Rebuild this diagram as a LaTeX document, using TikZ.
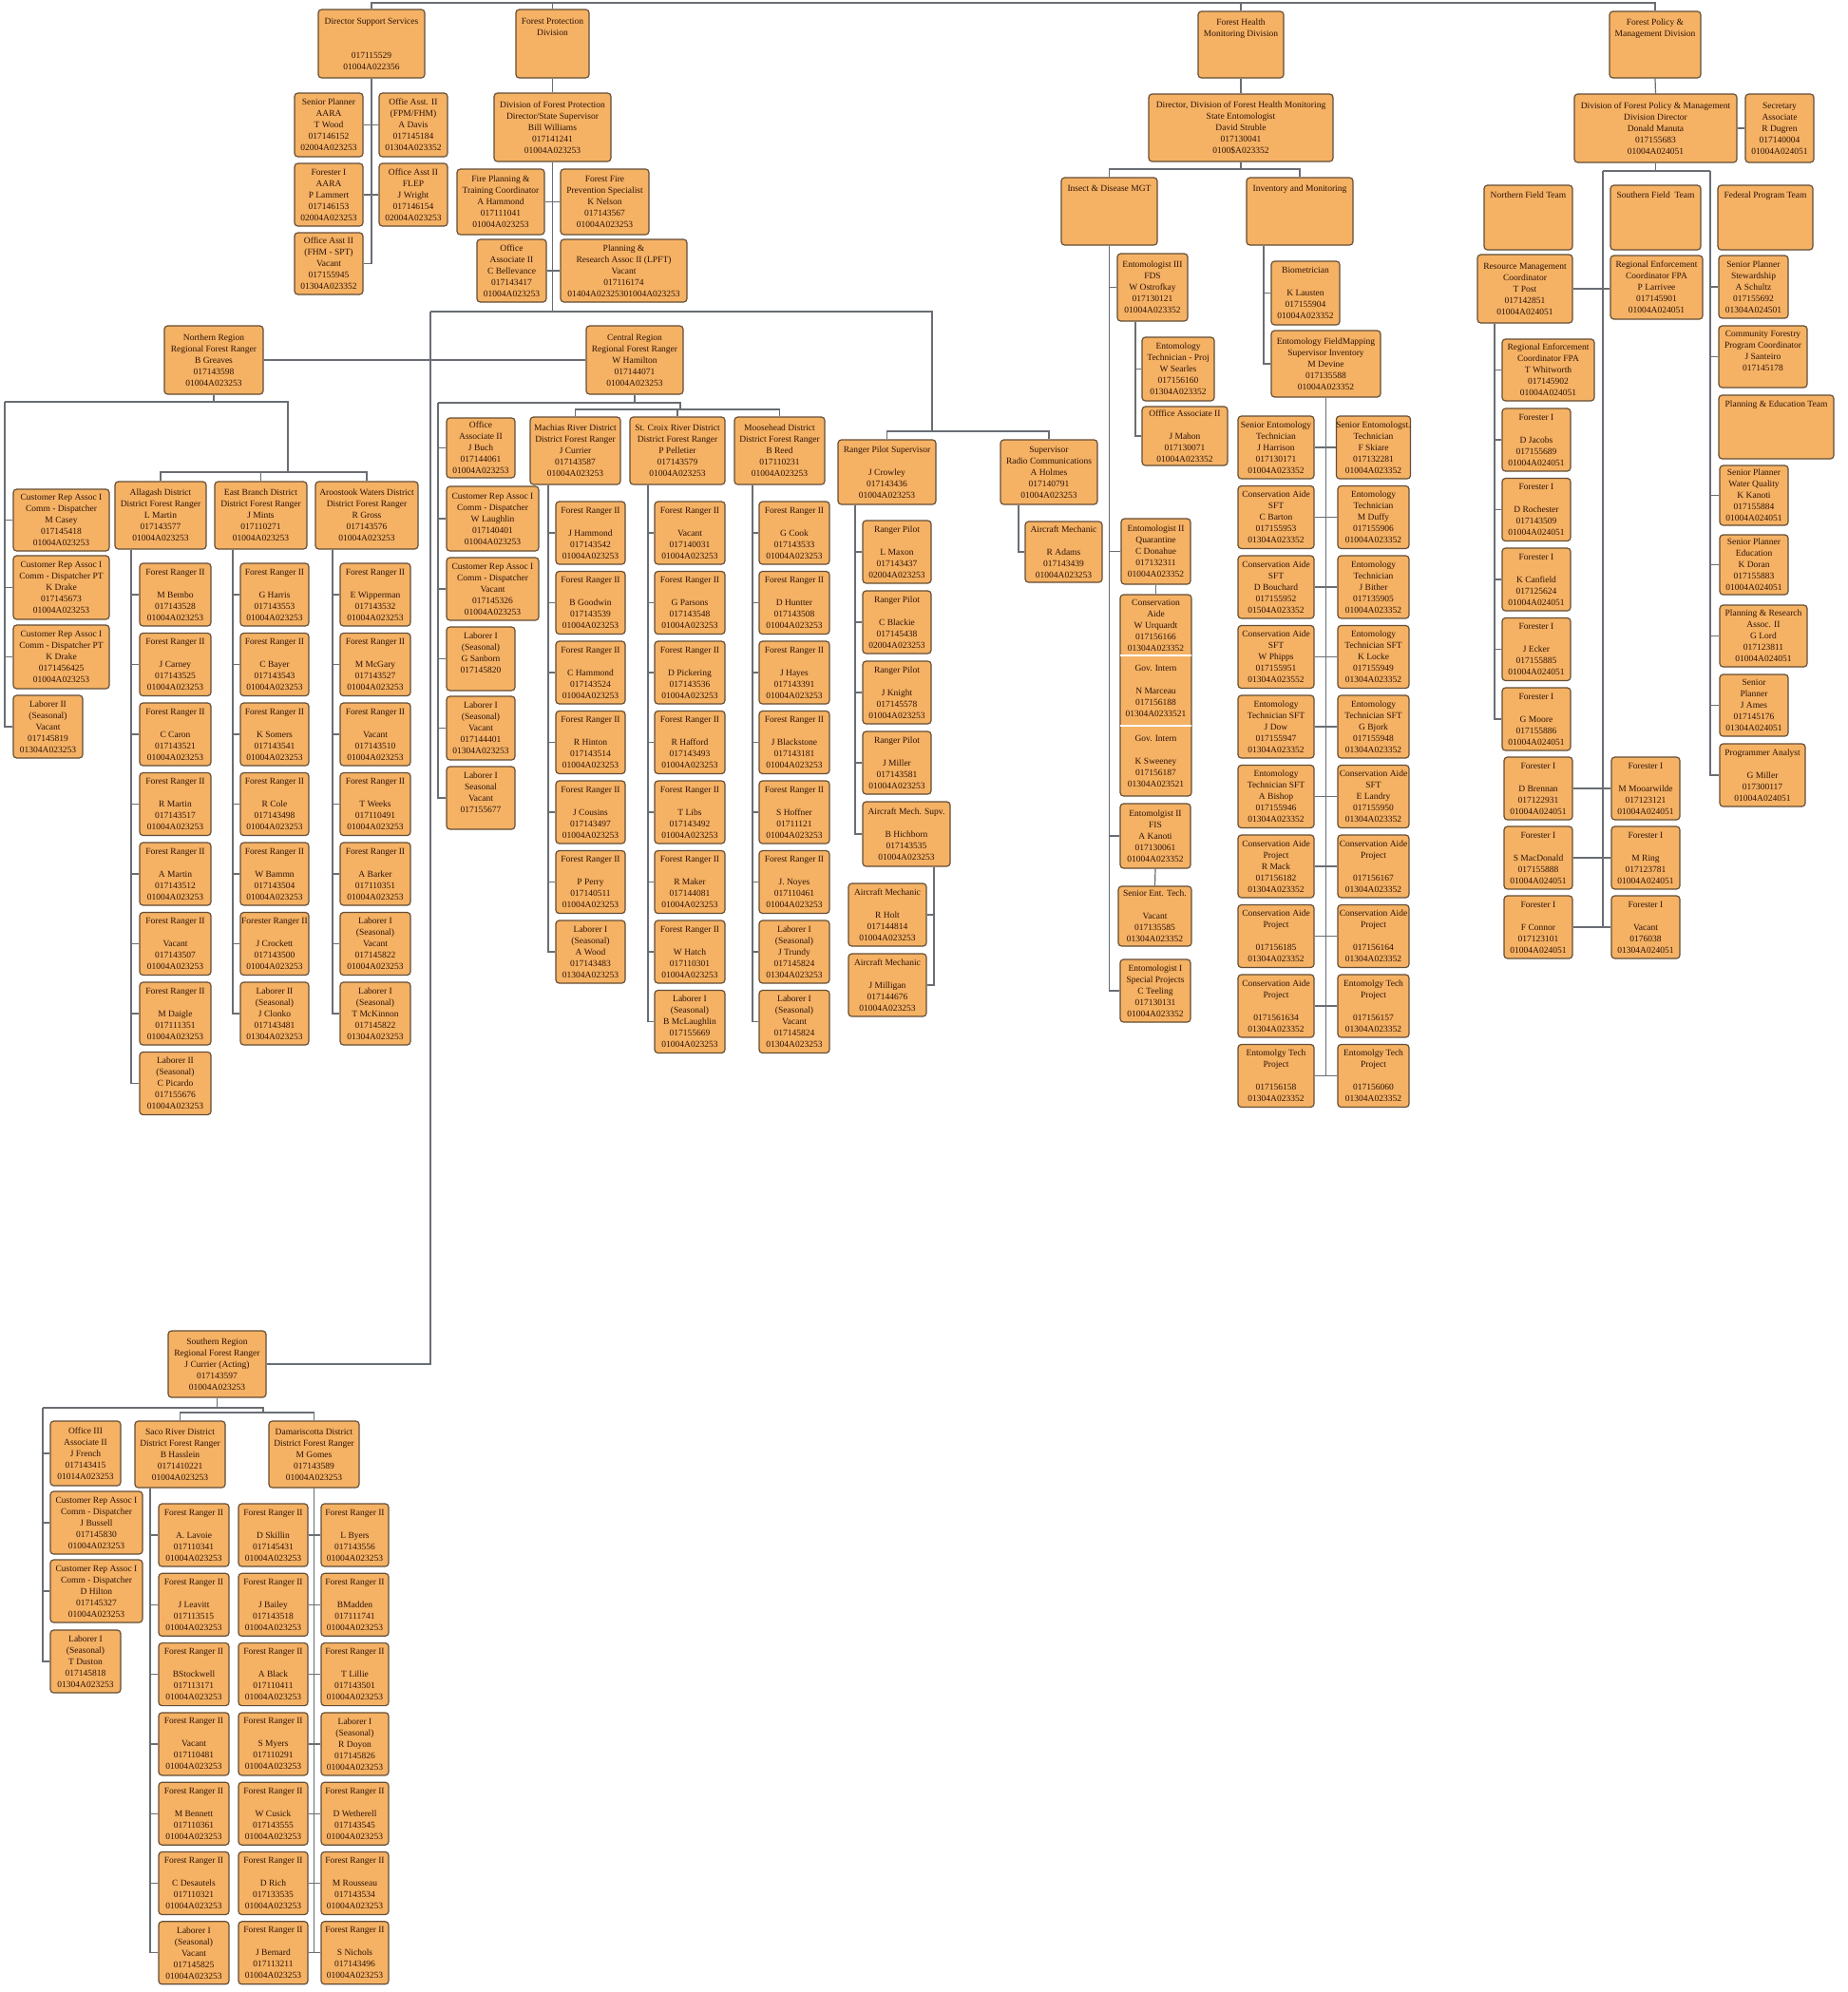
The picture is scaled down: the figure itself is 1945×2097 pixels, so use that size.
\documentclass[tikz,border=0pt]{standalone}
\usepackage{fontspec}
\setmainfont{Liberation Serif}
\usetikzlibrary{backgrounds}
\definecolor{boxfill}{RGB}{245,178,100}
\definecolor{boxline}{RGB}{100,78,55}
\definecolor{linec}{RGB}{105,110,116}
\definecolor{txt}{RGB}{45,18,10}
\tikzset{
 box/.style={draw=boxline, fill=boxfill, rounded corners=3.5pt, line width=1.2pt, inner sep=0pt, align=center, text=txt, font=\fontsize{9.5}{12}\selectfont},
 txtn/.style={inner sep=0pt, align=center, text=txt, font=\fontsize{9.5}{12}\selectfont},
 conn/.style={draw=linec, line width=1.2pt},
}
\newcommand\bx[6]{\node[box, minimum width={#4-#2}, minimum height={#5-#3}] (#1) at ({(#2+#4)/2},{(#3+#5)/2}) {#6};}
\newcommand\col[6]{\foreach \fa/\fb/\fc/\fd/\fe [count=\i] in {#6}{\pgfmathsetmacro\yy{#4+(\i-1)*#5}\bx{#1\i}{#2}{\yy}{#3}{\yy+66}{\fa\\\fb\\\fc\\\fd\\\fe}}}
\begin{document}
\begin{tikzpicture}[x=1pt,y=-1pt]
\useasboundingbox (0,0) rectangle (1945,2097);
% ---------- top level
\bx{dss}{335}{10}{447}{82}{Director Support Services\\~\\~\\017115529\\01004A022356}
\bx{fpd}{543}{10}{620}{82}{Forest Protection\\Division\\~\\~\\~}
\bx{fhmd}{1261}{12}{1351}{82}{Forest Health\\Monitoring Division\\~\\~\\~}
\bx{fpmd}{1694}{12}{1790}{82}{Forest Policy \&\\Management Division\\~\\~\\~}
% ---------- director support services
\bx{sp}{310}{98}{382}{165}{Senior Planner\\AARA\\T Wood\\017146152\\02004A023253}
\bx{oa1}{399}{98}{471}{165}{Offie Asst. II\\(FPM/FHM)\\A Davis\\017145184\\01304A023352}
\bx{f1}{310}{172}{382}{238}{Forester I\\AARA\\P Lammert\\017146153\\02004A023253}
\bx{oa2}{399}{172}{471}{238}{Office Asst II\\FLEP\\J Wright\\017146154\\02004A023253}
\bx{oa3}{310}{245}{382}{310}{Office Asst II\\(FHM - SPT)\\Vacant\\017155945\\01304A023352}
% ---------- forest protection
\bx{dfp}{520}{98}{643}{170}{Division of Forest Protection\\Director/State Supervisor\\Bill Williams\\017141241\\01004A023253}
\bx{fpc}{481}{178}{573}{247}{Fire Planning \&\\Training Coordinator\\A Hammond\\017111041\\01004A023253}
\bx{ffp}{590}{178}{683}{247}{Forest Fire\\Prevention Specialist\\K Nelson\\017143567\\01004A023253}
\bx{oa4}{502}{252}{575}{318}{Office\\Associate II\\C Bellevance\\017143417\\01004A023253}
\bx{pra}{590}{252}{723}{318}{Planning \&\\Research Assoc II (LPFT)\\Vacant\\017116174\\01404A02325301004A023253}
% ---------- northern region
\bx{nr}{173}{343}{277}{415}{Northern Region\\Regional Forest Ranger\\B Greaves\\017143598\\01004A023253}
\bx{cra1}{14}{515}{115}{580}{Customer Rep Assoc I\\Comm - Dispatcher\\M Casey\\017145418\\01004A023253}
\bx{cra2}{14}{585}{115}{652}{Customer Rep Assoc I\\Comm - Dispatcher PT\\K Drake\\017145673\\01004A023253}
\bx{cra3}{14}{658}{115}{725}{Customer Rep Assoc I\\Comm - Dispatcher PT\\K Drake\\0171456425\\01004A023253}
\bx{lab2}{14}{732}{87}{798}{Laborer II\\(Seasonal)\\Vacant\\017145819\\01304A023253}
\bx{alg}{121}{507}{217}{578}{Allagash District\\District Forest Ranger\\L Martin\\017143577\\01004A023253}
\bx{eb}{226}{507}{323}{578}{East Branch District\\District Forest Ranger\\J Mints\\017110271\\01004A023253}
\bx{aro}{332}{507}{440}{578}{Aroostook Waters District\\District Forest Ranger\\R Gross\\017143576\\01004A023253}
\col{al}{147}{222}{593}{73.5}{Forest Ranger II/~/M Bembo/017143528/01004A023253,
 Forest Ranger II/~/J Carney/017143525/01004A023253,
 Forest Ranger II/~/C Caron/017143521/01004A023253,
 Forest Ranger II/~/R Martin/017143517/01004A023253,
 Forest Ranger II/~/A Martin/017143512/01004A023253,
 Forest Ranger II/~/Vacant/017143507/01004A023253,
 Forest Ranger II/~/M Daigle/017111351/01004A023253,
 Laborer II/(Seasonal)/C Picardo/017155676/01004A023253}
\col{ebr}{253}{325}{593}{73.5}{Forest Ranger II/~/G Harris/017143553/01004A023253,
 Forest Ranger II/~/C Bayer/017143543/01004A023253,
 Forest Ranger II/~/K Somers/017143541/01004A023253,
 Forest Ranger II/~/R Cole/017143498/01004A023253,
 Forest Ranger II/~/W Bammn/017143504/01004A023253,
 Forester Ranger II/~/J Crockett/017143500/01004A023253,
 Laborer II/(Seasonal)/J Clonko/017143481/01304A023253}
\col{ar}{358}{432}{593}{73.5}{Forest Ranger II/~/E Wipperman/017143532/01004A023253,
 Forest Ranger II/~/M McGary/017143527/01004A023253,
 Forest Ranger II/~/Vacant/017143510/01004A023253,
 Forest Ranger II/~/T Weeks/017110491/01004A023253,
 Forest Ranger II/~/A Barker/017110351/01004A023253,
 Laborer I/(Seasonal)/Vacant/017145822/01004A023253,
 Laborer I/(Seasonal)/T McKinnon/017145822/01304A023253}
% ---------- central region
\bx{cr}{617}{343}{719}{415}{Central Region\\Regional Forest Ranger\\W Hamilton\\017144071\\01004A023253}
\bx{oc1}{470}{440}{542}{503}{Office\\Associate II\\J Buch\\017144061\\01004A023253}
\bx{oc2}{470}{512}{567}{580}{Customer Rep Assoc I\\Comm - Dispatcher\\W Laughlin\\017140401\\01004A023253}
\bx{oc3}{470}{587}{567}{653}{Customer Rep Assoc I\\Comm - Dispatcher\\Vacant\\017145326\\01004A023253}
\bx{oc4}{470}{660}{542}{727}{Laborer I\\(Seasonal)\\G Sanborn\\017145820\\~}
\bx{oc5}{470}{733}{542}{800}{Laborer I\\(Seasonal)\\Vacant\\017144401\\01304A023253}
\bx{oc6}{470}{807}{542}{873}{Laborer I\\Seasonal\\Vacant\\017155677\\~}
\bx{mach}{558}{439}{653}{510}{Machias River District\\District Forest Ranger\\J Currier\\017143587\\01004A023253}
\bx{stc}{663}{439}{763}{510}{St. Croix River District\\District Forest Ranger\\P Pelletier\\017143579\\01004A023253}
\bx{moos}{773}{439}{868}{510}{Moosehead District\\District Forest Ranger\\B Reed\\017110231\\01004A023253}
\col{mc}{585}{658}{528}{73.5}{Forest Ranger II/~/J Hammond/017143542/01004A023253,
 Forest Ranger II/~/B Goodwin/017143539/01004A023253,
 Forest Ranger II/~/C Hammond/017143524/01004A023253,
 Forest Ranger II/~/R Hinton/017143514/01004A023253,
 Forest Ranger II/~/J Cousins/017143497/01004A023253,
 Forest Ranger II/~/P Perry/017140511/01004A023253,
 Laborer I/(Seasonal)/A Wood/017143483/01304A023253}
\col{sc}{689}{763}{528}{73.5}{Forest Ranger II/~/Vacant/017140031/01004A023253,
 Forest Ranger II/~/G Parsons/017143548/01004A023253,
 Forest Ranger II/~/D Pickering/017143536/01004A023253,
 Forest Ranger II/~/R Hafford/017143493/01004A023253,
 Forest Ranger II/~/T Libs/017143492/01004A023253,
 Forest Ranger II/~/R Maker/017144081/01004A023253,
 Forest Ranger II/~/W Hatch/017110301/01004A023253,
 Laborer I/(Seasonal)/B McLaughlin/017155669/01004A023253}
\col{mo}{799}{873}{528}{73.5}{Forest Ranger II/~/G Cook/017143533/01004A023253,
 Forest Ranger II/~/D Huntter/017143508/01004A023253,
 Forest Ranger II/~/J Hayes/017143391/01004A023253,
 Forest Ranger II/~/J Blackstone/017143181/01004A023253,
 Forest Ranger II/~/S Hoffner/01711121/01004A023253,
 Forest Ranger II/~/J. Noyes/017110461/01004A023253,
 Laborer I/(Seasonal)/J Trundy/017145824/01304A023253,
 Laborer I/(Seasonal)/Vacant/017145824/01304A023253}
% ---------- ranger pilots and radio
\bx{rps}{882}{463}{985}{531}{Ranger Pilot Supervisor\\~\\J Crowley\\017143436\\01004A023253}
\col{rp}{908}{980}{548}{74}{Ranger Pilot/~/L Maxon/017143437/02004A023253,
 Ranger Pilot/~/C Blackie/017145438/02004A023253,
 Ranger Pilot/~/J Knight/017145578/01004A023253,
 Ranger Pilot/~/J Miller/017143581/01004A023253}
\bx{ams}{908}{844}{1000}{912}{Aircraft Mech. Supv.\\~\\B Hichborn\\017143535\\01004A023253}
\bx{rholt}{893}{930}{975}{996}{Aircraft Mechanic\\~\\R Holt\\017144814\\01004A023253}
\bx{jmil}{893}{1004}{975}{1070}{Aircraft Mechanic\\~\\J Milligan\\017144676\\01004A023253}
\bx{src}{1053}{463}{1155}{531}{Supervisor\\Radio Communications\\A Holmes\\017140791\\01004A023253}
\bx{radams}{1079}{549}{1160}{613}{Aircraft Mechanic\\~\\R Adams\\017143439\\01004A023253}
% ---------- forest health
\bx{dfh}{1209}{99}{1403}{170}{Director, Division of Forest Health Monitoring\\State Entomologist\\David Struble\\017130041\\0100\$A023352}
\bx{idm}{1117}{187}{1218}{258}{Insect \& Disease MGT\\~\\~\\~\\~}
\bx{inv}{1312}{187}{1424}{258}{Inventory and Monitoring\\~\\~\\~\\~}
\bx{e3}{1176}{267}{1250}{338}{Entomologist III\\FDS\\W Ostrofkay\\017130121\\01004A023352}
\bx{etp}{1202}{355}{1278}{422}{Entomology\\Technician - Proj\\W Searles\\017156160\\01304A023352}
\bx{oa5}{1202}{428}{1292}{490}{Offfice Associate II\\~\\J Mahon\\017130071\\01004A023352}
\bx{e2q}{1180}{546}{1253}{615}{Entomologist II\\Quarantine\\C Donahue\\017132311\\01004A023352}
\node[box, minimum width=75, minimum height=212] (grp) at (1216.5,732) {};
\node[txtn] (g1) at (1216.5,658) {Conservation\\Aide\\W Urquardt\\017156166\\01304A023352};
\node[txtn] (g2) at (1216.5,727) {Gov. Intern\\~\\N Marceau\\017156188\\01304A0233521};
\node[txtn] (g3) at (1216.5,801) {Gov. Intern\\~\\K Sweeney\\017156187\\01304A023521};
\coordinate (gs1) at (0,690);
\coordinate (gs2) at (0,764);
\draw[white, line width=2.2pt] ([xshift=1pt]grp.west |- gs1) -- ([xshift=-1pt]grp.east |- gs1);
\draw[white, line width=2.2pt] ([xshift=1pt]grp.west |- gs2) -- ([xshift=-1pt]grp.east |- gs2);
\bx{e2f}{1179}{846}{1253}{914}{Entomolgist II\\FIS\\A Kanoti\\017130061\\01004A023352}
\bx{set}{1177}{933}{1254}{996}{Senior Ent. Tech.\\~\\Vacant\\017135585\\01304A023352}
\bx{e1}{1179}{1010}{1253}{1076}{Entomologist I\\Special Projects\\C Teeling\\017130131\\01004A023352}
\bx{bio}{1338}{275}{1410}{342}{Biometrician\\~\\K Lausten\\017155904\\01004A023352}
\bx{efm}{1338}{348}{1453}{418}{Entomology FieldMapping\\Supervisor Inventory\\M Devine\\017135588\\01004A023352}
\col{hl}{1303}{1383}{438}{73.5}{Senior Entomology/Technician/J Harrison/017130171/01004A023352,
 Conservation Aide/SFT/C Barton/017155953/01304A023352,
 Conservation Aide/SFT/D Bouchard/017155952/01504A023352,
 Conservation Aide/SFT/W Phipps/017155951/01304A023552,
 Entomology/Technician SFT/J Dow/017155947/01304A023352,
 Entomology/Technician SFT/A Bishop/017155946/01304A023352,
 Conservation Aide/Project/R Mack/017156182/01304A023352,
 Conservation Aide/Project/~/017156185/01304A023352,
 Conservation Aide/Project/~/0171561634/01304A023352,
 Entomolgy Tech/Project/~/017156158/01304A023352}
\col{hr}{1408}{1483}{438}{73.5}{Senior Entomologst./Technician/F Skiare/017132281/01004A023352,
 Entomology/Technician/M Duffy/017155906/01004A023352,
 Entomology/Technician/J Bither/017135905/01004A023352,
 Entomology/Technician SFT/K Locke/017155949/01304A023352,
 Entomology/Technician SFT/G Bjork/017155948/01304A023352,
 Conservation Aide/SFT/E Landry/017155950/01304A023352,
 Conservation Aide/Project/~/017156167/01304A023352,
 Conservation Aide/Project/~/017156164/01304A023352,
 Entomolgy Tech/Project/~/017156157/01304A023352,
 Entomolgy Tech/Project/~/017156060/01304A023352}
% ---------- forest policy
\bx{dpm}{1657}{99}{1828}{171}{Division of Forest Policy \& Management\\Division Director\\Donald Manuta\\017155683\\01004A024051}
\bx{sec}{1837}{99}{1909}{171}{Secretary\\Associate\\R Dugren\\017140004\\01004A024051}
\bx{nft}{1562}{195}{1655}{263}{Northern Field Team\\~\\~\\~\\~}
\bx{sft}{1695}{195}{1790}{263}{Southern Field\ \ Team\\~\\~\\~\\~}
\bx{fpt}{1808}{195}{1908}{263}{Federal Program Team\\~\\~\\~\\~}
\bx{rmc}{1555}{268}{1655}{340}{Resource Management\\Coordinator\\T Post\\017142851\\01004A024051}
\bx{ref}{1695}{269}{1792}{336}{Regional Enforcement\\Coordinator FPA\\P Larrivee\\017145901\\01004A024051}
\bx{tw}{1581}{357}{1678}{422}{Regional Enforcement\\Coordinator FPA\\T Whitworth\\017145902\\01004A024051}
\col{fo}{1581}{1653}{430}{73.5}{Forester I/~/D Jacobs/017155689/01004A024051,
 Forester I/~/D Rochester/017143509/01004A024051,
 Forester I/~/K Canfield/017125624/01004A024051,
 Forester I/~/J Ecker/017155885/01004A024051,
 Forester I/~/G Moore/017155886/01004A024051}
\col{pl}{1583}{1655}{797}{73}{Forester I/~/D Brennan/017122931/01004A024051,
 Forester I/~/S MacDonald/017155888/01004A024051,
 Forester I/~/F Connor/017123101/01004A024051}
\col{pr}{1696}{1768}{797}{73}{Forester I/~/M Mooarwilde/017123121/01004A024051,
 Forester I/~/M Ring/017123781/01004A024051,
 Forester I/~/Vacant/0176038/01304A024051}
\bx{sps}{1809}{269}{1882}{335}{Senior Planner\\Stewardship\\A Schultz\\017155692\\01304A024501}
\bx{cfp}{1809}{343}{1902}{408}{Community Forestry\\Program Coordinator\\J Santeiro\\017145178\\~}
\bx{pet}{1809}{416}{1930}{483}{Planning \& Education Team\\~\\~\\~\\~}
\bx{spw}{1810}{490}{1882}{553}{Senior Planner\\Water Quality\\K Kanoti\\017155884\\01004A024051}
\bx{spe}{1810}{563}{1882}{626}{Senior Planner\\Education\\K Doran\\017155883\\01004A024051}
\bx{pra2}{1810}{637}{1902}{702}{Planning \& Research\\Assoc. II\\G Lord\\017123811\\01004A024051}
\bx{spj}{1810}{710}{1882}{775}{Senior\\Planner\\J Ames\\017145176\\01304A024051}
\bx{pga}{1810}{783}{1900}{849}{Programmer Analyst\\~\\G Miller\\017300117\\01004A024051}
% ---------- southern region
\bx{sr}{177}{1401}{280}{1471}{Southern Region\\Regional Forest Ranger\\J Currier (Acting)\\017143597\\01004A023253}
\bx{o3}{53}{1496}{127}{1564}{Office III\\Associate II\\J French\\017143415\\01014A023253}
\bx{cjb}{53}{1570}{150}{1636}{Customer Rep Assoc I\\Comm - Dispatcher\\J Bussell\\017145830\\01004A023253}
\bx{cdh}{53}{1642}{150}{1708}{Customer Rep Assoc I\\Comm - Dispatcher\\D Hilton\\017145327\\01004A023253}
\bx{ltd}{53}{1716}{127}{1782}{Laborer I\\(Seasonal)\\T Duston\\017145818\\01304A023253}
\bx{saco}{142}{1496}{237}{1566}{Saco River District\\District Forest Ranger\\B Hasslein\\0171410221\\01004A023253}
\bx{dam}{283}{1496}{378}{1566}{Damariscotta District\\District Forest Ranger\\M Gomes\\017143589\\01004A023253}
\col{sa}{167}{241}{1583}{73.3}{Forest Ranger II/~/A. Lavoie/017110341/01004A023253,
 Forest Ranger II/~/J Leavitt/017113515/01004A023253,
 Forest Ranger II/~/BStockwell/017113171/01004A023253,
 Forest Ranger II/~/Vacant/017110481/01004A023253,
 Forest Ranger II/~/M Bennett/017110361/01004A023253,
 Forest Ranger II/~/C Desautels/017110321/01004A023253,
 Laborer I/(Seasonal)/Vacant/017145825/01004A023253}
\col{da}{251}{324}{1583}{73.3}{Forest Ranger II/~/D Skillin/017145431/01004A023253,
 Forest Ranger II/~/J Bailey/017143518/01004A023253,
 Forest Ranger II/~/A Black/017110411/01004A023253,
 Forest Ranger II/~/S Myers/017110291/01004A023253,
 Forest Ranger II/~/W Cusick/017143555/01004A023253,
 Forest Ranger II/~/D Rich/017133535/01004A023253,
 Forest Ranger II/~/J Bernard/017113211/01004A023253}
\col{db}{338}{409}{1583}{73.3}{Forest Ranger II/~/L Byers/017143556/01004A023253,
 Forest Ranger II/~/BMadden/017111741/01004A023253,
 Forest Ranger II/~/T Lillie/017143501/01004A023253,
 Laborer I/(Seasonal)/R Doyon/017145826/01004A023253,
 Forest Ranger II/~/D Wetherell/017143545/01004A023253,
 Forest Ranger II/~/M Rousseau/017143534/01004A023253,
 Forest Ranger II/~/S Nichols/017143496/01004A023253}
% ---------- connectors
\begin{pgfonlayer}{background}
\fill[white] (0,0) rectangle (1945,2097);
\begin{scope}[conn]
\coordinate (top) at (0,3);
\draw (dss.north) -- (dss.north |- top) -- (fpmd.north |- top) -- (fpmd.north);
\draw (fpd.north) -- (fpd.north |- top);
\draw (fhmd.north) -- (fhmd.north |- top);
% DSS
\draw (dss.south) |- (oa3.east);
\draw (sp.east) -- (oa1.west);
\draw (f1.east) -- (oa2.west);
% forest protection
\coordinate (jL) at (453,328);
\coordinate (jR) at (981,328);
\coordinate (jP) at (981,454);
\draw (fpd.south) -- (dfp.north);
\draw (dfp.south) -- (dfp.south |- jL);
\draw (fpc.east) -- (ffp.west);
\draw (oa4.east) -- (pra.west);
\draw (jL) -- (jR) -- (jP);
\draw (rps.north) |- (jP);
\draw (src.north) |- (jP);
\draw (jL) |- (sr.east);
\draw (nr.east) -- (cr.west);
% northern
\coordinate (nL) at (5,423);
\coordinate (nD) at (303,423);
\coordinate (nD2) at (303,497);
\draw (nr.south) -- (nr.south |- nL);
\draw (nL) -- (nD) -- (nD2);
\draw (alg.north) |- (nD2);
\draw (aro.north) |- (nD2);
\draw (eb.north) -- (eb.north |- nD2);
\foreach \n in {cra1,cra2,cra3,lab2} \draw (nL) |- (\n.west);
\coordinate (tA) at (138,0);
\coordinate (tE) at (245,0);
\coordinate (tR) at (350,0);
\foreach \i in {1,...,8} \draw (alg.south -| tA) |- (al\i.west);
\foreach \i in {1,...,7} \draw (eb.south -| tE) |- (ebr\i.west);
\foreach \i in {1,...,7} \draw (aro.south -| tR) |- (ar\i.west);
% central
\coordinate (cjL) at (461,424);
\coordinate (cjR) at (716,424);
\coordinate (cjR2) at (716,431);
\draw (cr.south) -- (cr.south |- cjL);
\draw (cjL) -- (cjR) -- (cjR2);
\draw (mach.north) |- (cjR2);
\draw (moos.north) |- (cjR2);
\draw (stc.north) -- (stc.north |- cjR2);
\foreach \i in {1,...,6} \draw (cjL) |- (oc\i.west);
\coordinate (tM) at (577,0);
\coordinate (tC) at (682,0);
\coordinate (tO) at (792,0);
\foreach \i in {1,...,7} \draw (mach.south -| tM) |- (mc\i.west);
\foreach \i in {1,...,8} \draw (stc.south -| tC) |- (sc\i.west);
\foreach \i in {1,...,8} \draw (moos.south -| tO) |- (mo\i.west);
% pilots
\coordinate (tP) at (900,0);
\coordinate (tAM) at (983,0);
\coordinate (tRC) at (1072,0);
\foreach \i in {1,...,4} \draw (rps.south -| tP) |- (rp\i.west);
\draw (rps.south -| tP) |- (ams.west);
\draw (ams.south -| tAM) |- (rholt.east);
\draw (ams.south -| tAM) |- (jmil.east);
\draw (src.south -| tRC) |- (radams.west);
% forest health
\coordinate (hj) at (1306,178);
\draw (fhmd.south) -- (dfh.north);
\draw (dfh.south) -- (hj);
\draw (idm.north) |- (hj);
\draw (inv.north) |- (hj);
\foreach \n in {e3,e2q,e2f,e1} \draw (idm.south) |- (\n.west);
\coordinate (t95) at (1195,0);
\draw (e3.south -| t95) |- (etp.west);
\draw (e3.south -| t95) |- (oa5.west);
\draw (e2q.south) -- (grp.north);
\draw (e2f.south) -- (set.north);
\coordinate (tI) at (1330,0);
\draw (inv.south -| tI) |- (bio.west);
\draw (inv.south -| tI) |- (efm.west);
\draw (efm.south) -- (efm.south |- hl10.east);
\foreach \i in {1,...,10} \draw (hl\i.east) -- (hr\i.west);
% forest policy
\coordinate (pjL) at (1687,180);
\coordinate (pjR) at (1800,180);
\draw (fpmd.south) -- (dpm.north);
\draw (dpm.east) -- (sec.west);
\draw (dpm.south) -- (dpm.south |- pjL);
\draw (pjL) -- (pjR);
\draw (pjL) |- (pr3.west);
\foreach \i in {1,2,3} \draw (pl\i.east) -- (pr\i.west);
\draw (rmc.east) -- (rmc.east -| ref.west);
\coordinate (tRM) at (1573,0);
\draw (rmc.south -| tRM) |- (tw.west);
\foreach \i in {1,...,5} \draw (rmc.south -| tRM) |- (fo\i.west);
\foreach \n in {sps,cfp,spw,spe,pra2,spj,pga} \draw (pjR) |- (\n.west);
% southern
\coordinate (sjL) at (45,1482);
\coordinate (sjR) at (277,1482);
\coordinate (sjR2) at (277,1487);
\draw (sr.south) -- (sr.south |- sjL);
\draw (sjL) -- (sjR) -- (sjR2);
\draw (saco.north) |- (sjR2);
\draw (dam.north) |- (sjR2);
\foreach \n in {o3,cjb,cdh,ltd} \draw (sjL) |- (\n.west);
\coordinate (tS) at (158,0);
\foreach \i in {1,...,7} \draw (saco.south -| tS) |- (sa\i.west);
\foreach \i in {1,...,7} {\draw (dam.south) |- (da\i.east); \draw (dam.south) |- (db\i.west);}
\end{scope}
\end{pgfonlayer}
\end{tikzpicture}
\end{document}
